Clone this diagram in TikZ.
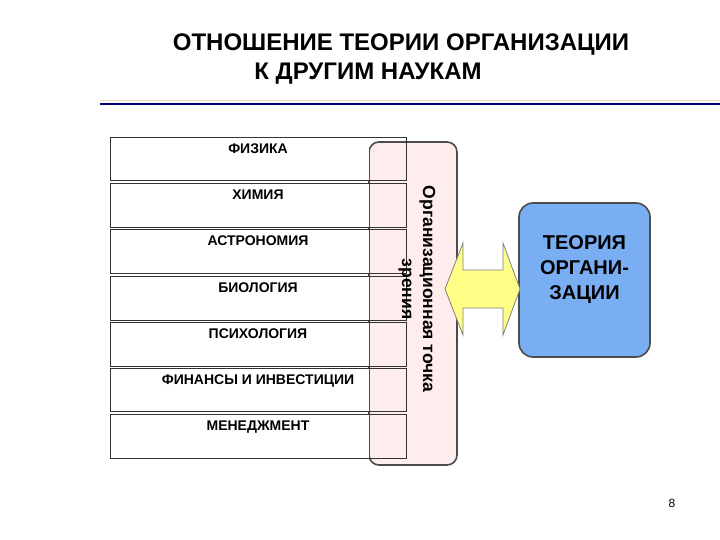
\documentclass[tikz,border=0pt]{standalone}
\usepackage{fontspec}
\setmainfont{Liberation Sans}
\definecolor{thblue}{HTML}{79AEF2}
\definecolor{arrowy}{HTML}{FFFF88}
\begin{document}
\begin{tikzpicture}[x=1pt,y=-1pt,
  row/.style={draw=black!80, line width=0.8pt},
  rowtxt/.style={font=\bfseries\fontsize{14}{16}\selectfont, anchor=north},
  band/.style={draw=black!70, line width=1.6pt, fill=pink!30, rounded corners=10pt},
  theory/.style={draw=black!70, line width=1.6pt, fill=thblue, rounded corners=14pt}]
\useasboundingbox (0,0) rectangle (720,540);
\node[font=\bfseries\fontsize{24}{27}\selectfont] (t1) at (401,45) {ОТНОШЕНИЕ ТЕОРИИ ОРГАНИЗАЦИИ};
\node[font=\bfseries\fontsize{24}{27}\selectfont] (t2) at (368,74) {К ДРУГИМ НАУКАМ};
\draw[line width=1.5pt, draw=blue!50!black] (100,104) -- (720,104);
\draw[line width=1pt, draw=brown!30] (100,101) -- (720,101);
\draw[band] (369,142) rectangle (457,465);
\foreach \a/\b/\t [count=\i] in {137/180/ФИЗИКА,183/227/ХИМИЯ,229/273/АСТРОНОМИЯ,276/320/БИОЛОГИЯ,322/366/ПСИХОЛОГИЯ,368/411/ФИНАНСЫ И ИНВЕСТИЦИИ,414/458/МЕНЕДЖМЕНТ}{
  \fill[white] (110,\a) rectangle (369,\b);
  \draw[row] (110,\a) rectangle (406,\b);
  \node[rowtxt] (r\i) at (258,\a+3) {\t};
}
\node[font=\bfseries\fontsize{17.5}{21}\selectfont, rotate=-90, align=center] (v) at (417,289) {Организационная точка\\зрения};
\node[theory, minimum width=131pt, minimum height=154pt] (th) at (584.5,280) {};
\node[align=center, font=\bfseries\fontsize{20}{25}\selectfont] (tt) at (584.5,270) {ТЕОРИЯ\\ОРГАНИ-\\ЗАЦИИ};
\draw[draw=black!50, line width=0.8pt, fill=arrowy] (445,289) -- (463,243) -- (463,270) -- (503,270) -- (503,243) -- (520,289) -- (503,335) -- (503,308) -- (463,308) -- (463,335) -- cycle;
\node[font=\fontsize{12}{14}\selectfont] (pg) at (672,503) {8};
\end{tikzpicture}
\end{document}
